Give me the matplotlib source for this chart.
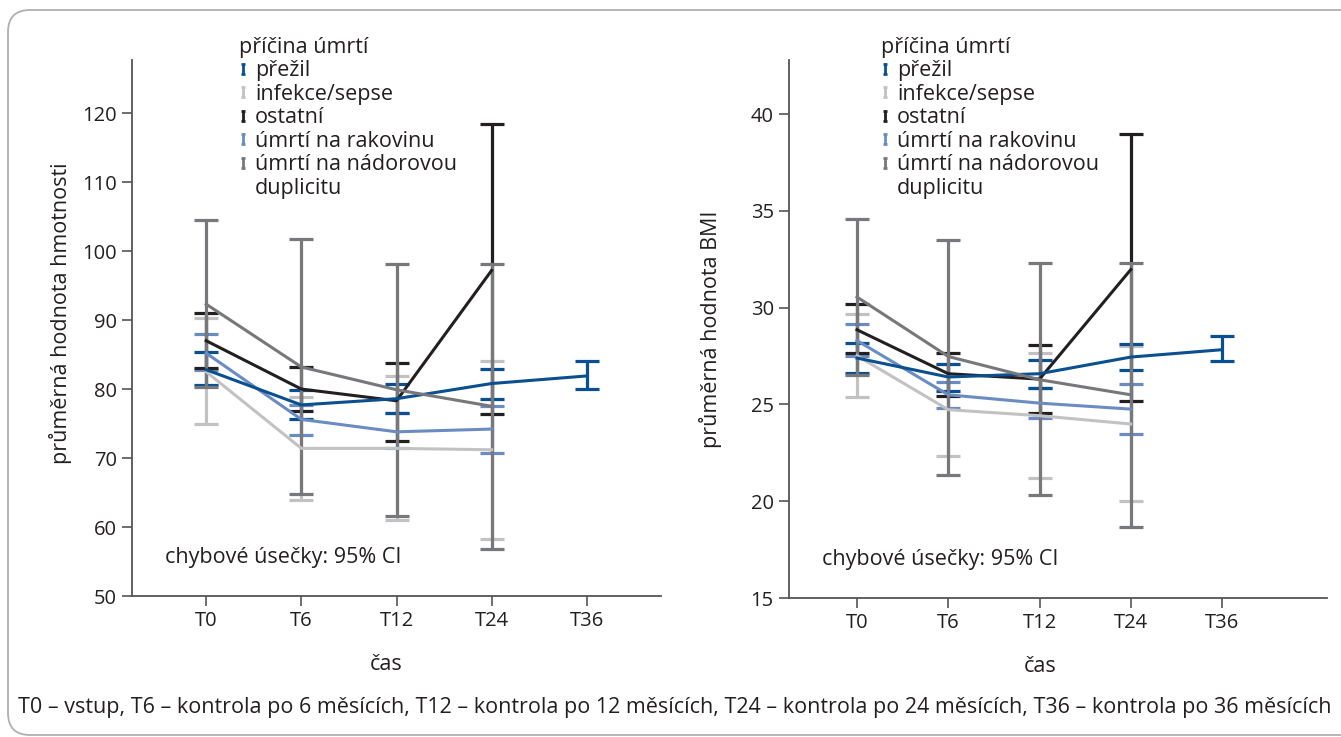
import matplotlib
matplotlib.use('Agg')
import matplotlib.pyplot as plt
from matplotlib.lines import Line2D
from matplotlib.path import Path
from matplotlib.patches import FancyBboxPatch
from matplotlib.transforms import IdentityTransform

plt.rcParams['font.family'] = ['Open Sans', 'DejaVu Sans']

# time points
times = ['T0', 'T6', 'T12', 'T24', 'T36']

labels = ['přežil', 'infekce/sepse', 'ostatní', 'úmrtí na rakovinu', 'úmrtí na nádorovou']
colors = ['#0a4f8f', '#c2c2c2', '#231f20', '#6a8cc3', '#77787b']

# weight (hmotnost): mean, lower and upper 95% CI
w_prezil = [82.8, 77.7, 78.6, 80.8, 81.9]
w_prezil_lo = [80.6, 75.6, 76.6, 78.6, 80.0]
w_prezil_hi = [85.3, 79.9, 80.8, 82.9, 84.0]
w_infekce = [82.5, 71.4, 71.4, 71.2]
w_infekce_lo = [74.9, 63.9, 61.0, 58.3]
w_infekce_hi = [90.3, 78.9, 81.9, 84.0]
w_ostatni = [87.0, 80.0, 78.3, 97.2]
w_ostatni_lo = [83.1, 76.8, 72.5, 76.4]
w_ostatni_hi = [91.0, 83.2, 83.8, 118.4]
w_rakovina = [85.2, 75.6, 73.8, 74.2]
w_rakovina_lo = [82.8, 73.4, 71.4, 70.7]
w_rakovina_hi = [88.0, 77.7, 76.5, 77.6]
w_duplicita = [92.3, 83.2, 79.9, 77.5]
w_duplicita_lo = [80.3, 64.8, 61.6, 56.8]
w_duplicita_hi = [104.5, 101.7, 98.2, 98.2]

# BMI: mean, lower and upper 95% CI
b_prezil = [27.40, 26.42, 26.59, 27.45, 27.83]
b_prezil_lo = [26.62, 25.72, 25.85, 26.76, 27.23]
b_prezil_hi = [28.17, 27.10, 27.31, 28.14, 28.52]
b_infekce = [27.52, 24.73, 24.42, 23.99]
b_infekce_lo = [25.38, 22.35, 21.19, 20.02]
b_infekce_hi = [29.66, 27.10, 27.66, 28.00]
b_ostatni = [28.86, 26.59, 26.31, 31.97]
b_ostatni_lo = [27.66, 25.45, 24.55, 25.16]
b_ostatni_hi = [30.21, 27.66, 28.05, 39.0]
b_rakovina = [28.3, 25.50, 25.07, 24.76]
b_rakovina_lo = [27.52, 24.81, 24.30, 23.48]
b_rakovina_hi = [29.17, 26.16, 25.85, 26.07]
b_duplicita = [30.55, 27.48, 26.28, 25.50]
b_duplicita_lo = [26.54, 21.33, 20.31, 18.69]
b_duplicita_hi = [34.59, 33.49, 32.31, 32.31]

caption = ('T0 – vstup, T6 – kontrola po 6 měsících, T12 – kontrola po 12 měsících, '
           'T24 – kontrola po 24 měsících, T36 – kontrola po 36 měsících')

TXT = '#231f20'
SPINE = '#555555'
FS = 15.5      # general text
TICK_FS = 14.5

# I-beam marker for the legend
ibeam = Path([(-0.45, 1), (0.45, 1), (0, 1), (0, -1), (-0.45, -1), (0.45, -1)],
             [Path.MOVETO, Path.LINETO, Path.MOVETO, Path.LINETO, Path.MOVETO, Path.LINETO])


def draw_series(ax, mean, lo, hi, color):
    x = list(range(len(mean)))
    err = [[m - l for m, l in zip(mean, lo)], [h - m for m, h in zip(mean, hi)]]
    ax.errorbar(x, mean, yerr=err, color=color, lw=2.2, elinewidth=2.3,
                capsize=8.5, capthick=2.3)


def setup_axes(ax, ylim, yticks, ylabel, xlabel_x, ylabel_pos, xlim):
    ax.set_ylim(*ylim)
    ax.set_xlim(*xlim)
    ax.set_yticks(yticks)
    ax.set_xticks(range(len(times)))
    ax.set_xticklabels(times)
    for s in ['top', 'right']:
        ax.spines[s].set_visible(False)
    for s in ['left', 'bottom']:
        ax.spines[s].set_color(SPINE)
        ax.spines[s].set_linewidth(1.3)
    ax.tick_params(colors=SPINE, labelcolor=TXT, labelsize=TICK_FS, length=7, width=1.2, pad=4)
    ax.set_xlabel('čas', fontsize=FS, color=TXT)
    ax.xaxis.set_label_coords(xlabel_x, -0.108)
    ax.set_ylabel(ylabel, fontsize=FS, color=TXT)
    ax.yaxis.set_label_coords(*ylabel_pos)
    ax.text(0.062, 0.072, 'chybové úsečky: 95% CI', transform=ax.transAxes,
            fontsize=FS, color=TXT, va='center', ha='left')


def add_legend(ax, anchor):
    handles = [Line2D([], [], ls='none', marker=ibeam, markersize=7, mew=2.0,
                      color=c, label=l) for c, l in zip(colors, labels)]
    handles.append(Line2D([], [], ls='none', label='duplicitu'))
    leg = ax.legend(handles=handles, title='příčina úmrtí', loc='upper left',
                    bbox_to_anchor=anchor, bbox_transform=ax.figure.transFigure,
                    frameon=False, fontsize=FS, title_fontsize=FS, alignment='left',
                    handlelength=0.4, handletextpad=0.34, labelspacing=0.115,
                    borderpad=0, borderaxespad=0, numpoints=1)
    for t in leg.get_texts():
        t.set_color(TXT)
    leg.get_title().set_color(TXT)


fig = plt.figure(figsize=(13.41, 7.37), dpi=100)

ax1 = fig.add_axes([132 / 1341, 1 - 596 / 737, (661 - 132) / 1341, (596 - 60) / 737])
ax2 = fig.add_axes([789 / 1341, 1 - 598 / 737, (1327 - 789) / 1341, (598 - 60) / 737])

left_sets = [(w_infekce, w_infekce_lo, w_infekce_hi, colors[1]),
             (w_rakovina, w_rakovina_lo, w_rakovina_hi, colors[3]),
             (w_ostatni, w_ostatni_lo, w_ostatni_hi, colors[2]),
             (w_prezil, w_prezil_lo, w_prezil_hi, colors[0]),
             (w_duplicita, w_duplicita_lo, w_duplicita_hi, colors[4])]
right_sets = [(b_infekce, b_infekce_lo, b_infekce_hi, colors[1]),
              (b_rakovina, b_rakovina_lo, b_rakovina_hi, colors[3]),
              (b_ostatni, b_ostatni_lo, b_ostatni_hi, colors[2]),
              (b_prezil, b_prezil_lo, b_prezil_hi, colors[0]),
              (b_duplicita, b_duplicita_lo, b_duplicita_hi, colors[4])]

for m, lo, hi, c in left_sets:
    draw_series(ax1, m, lo, hi, c)
for m, lo, hi, c in right_sets:
    draw_series(ax2, m, lo, hi, c)

setup_axes(ax1, (50, 127.7), range(50, 121, 10), 'průměrná hodnota hmotnosti',
           0.48, (-0.113, 0.528), (-0.78, 4.78))
setup_axes(ax2, (15, 42.8), range(15, 41, 5), 'průměrná hodnota BMI',
           0.467, (-0.125, 0.5), (-0.745, 5.15))

add_legend(ax1, (239 / 1341, 1 - 37 / 737))
add_legend(ax2, (881 / 1341, 1 - 37 / 737))

fig.text(18 / 1341, 1 - 707 / 737, caption, fontsize=FS, color=TXT, ha='left', va='center')

border = FancyBboxPatch((8, 737 - 735), 1400, 735 - 10,
                        boxstyle='round,pad=0,rounding_size=22',
                        transform=IdentityTransform(), fill=False,
                        edgecolor='#b0b0b0', linewidth=1.3)
fig.add_artist(border)

fig.savefig('out.png', dpi=100)
